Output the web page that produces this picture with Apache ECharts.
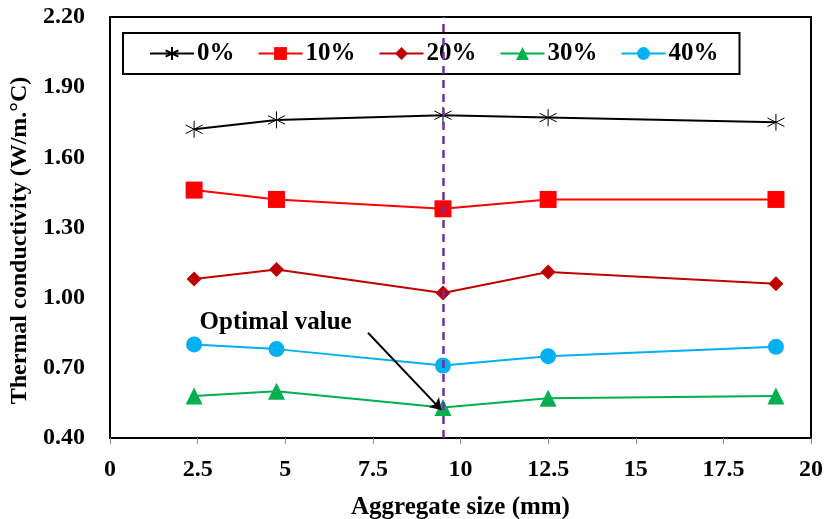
<!DOCTYPE html>
<html><head><meta charset="utf-8">
<script src="https://cdn.jsdelivr.net/npm/echarts@6/dist/echarts.min.js"></script>
<style>html,body{margin:0;padding:0;background:#fff}#c{width:826px;height:519px}</style>
</head><body><div id="c"></div>
<script>
const sizes = [2.4, 4.75, 9.5, 12.5, 19];
const seriesNames = ['0%', '10%', '20%', '30%', '40%'];
const v0 = [1.72, 1.76, 1.78, 1.77, 1.75];
const v10 = [1.46, 1.42, 1.38, 1.42, 1.42];
const v20 = [1.08, 1.12, 1.02, 1.11, 1.06];
const v30 = [0.58, 0.60, 0.53, 0.57, 0.58];
const v40 = [0.80, 0.78, 0.71, 0.75, 0.79];
const optimalX = 9.5;
const annotText = 'Optimal value';
const annotTextPos = [4.74, 0.89];
const arrowFrom = [7.36, 0.85];
const arrowTo = [9.45, 0.52];

const font = 'Liberation Serif';
const pair = v => sizes.map((x, i) => [x, v[i]]);
const star = 'path://M0,-10 L0,10 M-8.66,-5 L8.66,5 M-8.66,5 L8.66,-5';

function mk(name, vals, color, symbol, size, extra) {
  return Object.assign({
    name, type: 'line', data: pair(vals), symbol, symbolSize: size,
    lineStyle: { color, width: 2 }, itemStyle: { color },
    z: 3
  }, extra || {});
}

const chart = echarts.init(document.getElementById('c'));
chart.setOption({
  animation: false,
  textStyle: { fontFamily: font },
  grid: { left: 110, right: 15, top: 17, bottom: 81, show: true, borderColor: '#000', borderWidth: 2,
    containLabel: false, outerBoundsMode: 'none' },
  legend: {
    data: seriesNames, left: 123, top: 33,
    borderColor: '#000', borderWidth: 2, padding: [8, 21, 8, 26],
    backgroundColor: '#fff',
    itemWidth: 44, itemHeight: 16, itemGap: 23,
    textStyle: { fontFamily: font, fontWeight: 'bold', fontSize: 25, color: '#000', padding: [0, 0, 0, -2] }
  },
  xAxis: {
    type: 'value', min: 0, max: 20, interval: 2.5,
    name: 'Aggregate size (mm)', nameLocation: 'middle', nameGap: 57,
    nameTextStyle: { fontFamily: font, fontWeight: 'bold', fontSize: 25, color: '#000' },
    axisLine: { lineStyle: { color: '#000', width: 2 } },
    axisTick: { show: true, length: 6, lineStyle: { color: '#888' } },
    axisLabel: { margin: 20, fontFamily: font, fontWeight: 'bold', fontSize: 24, color: '#000' },
    splitLine: { show: false }
  },
  yAxis: {
    type: 'value', min: 0.4, max: 2.2, interval: 0.3,
    name: 'Thermal conductivity (W/m.°C)', nameLocation: 'middle', nameGap: 76,
    nameTextStyle: { fontFamily: font, fontWeight: 'bold', fontSize: 24, color: '#000', padding: [0, 26, 0, 0] },
    axisLine: { show: true, lineStyle: { color: '#000', width: 2 } },
    axisTick: { show: false },
    axisLabel: { margin: 25, fontFamily: font, fontWeight: 'bold', fontSize: 24, color: '#000',
      formatter: v => v.toFixed(2) },
    splitLine: { show: false }
  },
  series: [
    mk('0%', v0, '#000000', star, 17, { itemStyle: { color: 'none', borderColor: '#000', borderWidth: 1 } }),
    mk('10%', v10, '#FF0000', 'rect', 17),
    mk('20%', v20, '#C00000', 'diamond', 15),
    mk('30%', v30, '#00B050', 'triangle', 17),
    mk('40%', v40, '#00B0F0', 'circle', 16),
    {
      name: 'annot', type: 'scatter', data: [annotTextPos], symbolSize: 1, z: 5,
      itemStyle: { color: 'rgba(0,0,0,0)', opacity: 1 },
      label: { show: true, position: [0, 0], align: 'center', verticalAlign: 'middle', formatter: annotText,
        fontFamily: font, fontWeight: 'bold', fontSize: 25, color: '#000', textBorderWidth: 0, opacity: 1 },
      markLine: {
        silent: true, animation: false,
        symbol: ['none', 'none'],
        data: [
          { xAxis: optimalX, lineStyle: { color: '#7030A0', width: 2.5, type: [8, 6] }, label: { show: false } },
          [ { coord: arrowFrom, symbol: 'none' }, { coord: arrowTo, symbol: 'arrow', symbolSize: 11 } ]
        ],
        lineStyle: { color: '#000', width: 2, type: 'solid' },
        label: { show: false }
      }
    }
  ]
});
</script></body></html>
